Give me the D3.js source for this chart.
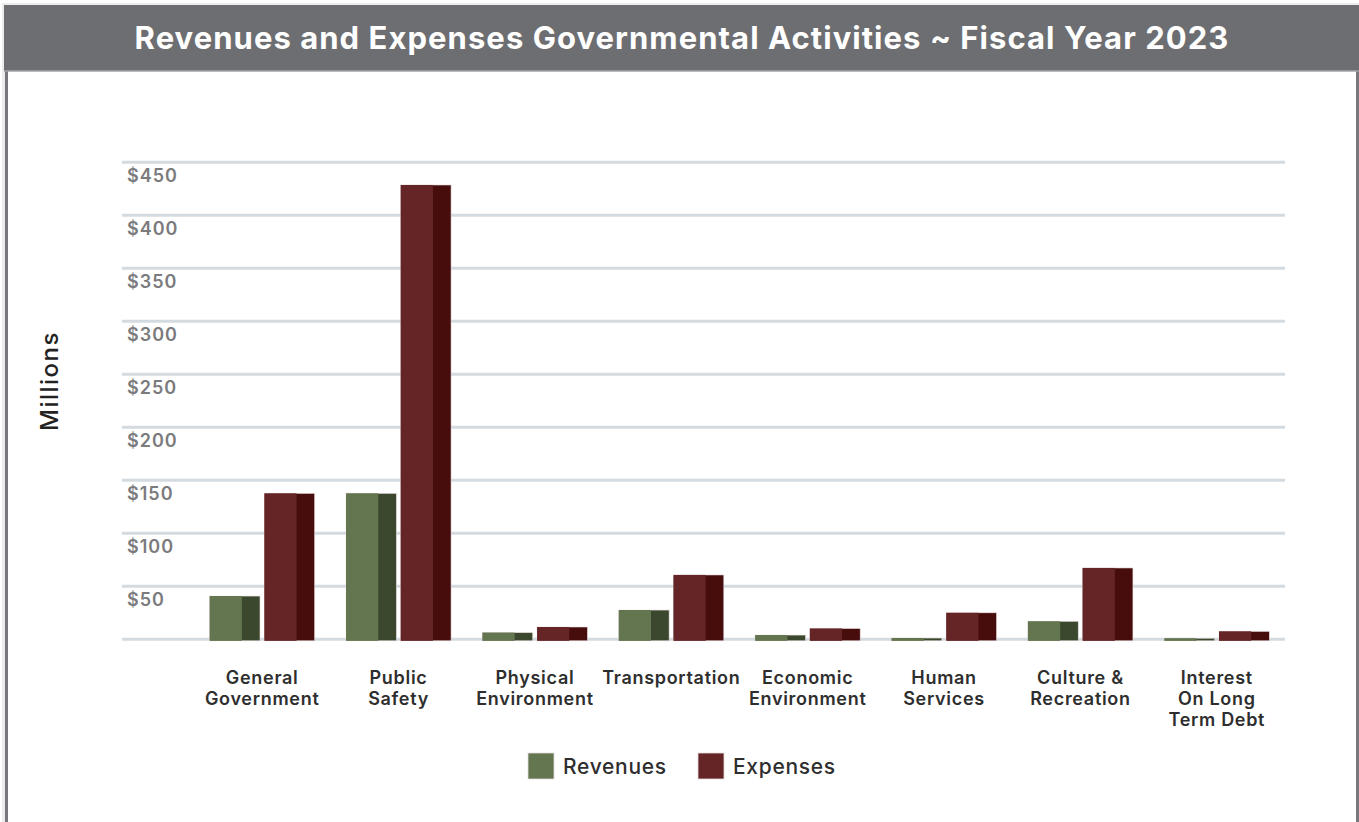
<!doctype html>
<html>
<head>
<meta charset="utf-8">
<script src="https://cdnjs.cloudflare.com/ajax/libs/d3/7.8.5/d3.min.js"></script>
<style>
  body { margin: 0; background: #fff; }
  svg { display: block; font-family: Inter, "Open Sans", sans-serif; }
  .title { fill: #fff; font-size: 31px; font-weight: 700; letter-spacing: 1.05px; }
  .ytick { fill: #7b7b7d; font-size: 18px; font-weight: 600; letter-spacing: 1px; }
  .cat { fill: #2e2e2e; font-size: 18px; font-weight: 600; letter-spacing: 0.7px; }
  .ylabel { fill: #222; font-size: 24px; font-weight: 500; letter-spacing: 1.5px; }
  .legend text { fill: #2e2e2e; font-size: 21px; font-weight: 500; letter-spacing: 0.7px; }
</style>
</head>
<body>
<svg id="chart" width="1359" height="822"></svg>
<script>
// values in millions of dollars
var categories = ["General\nGovernment", "Public\nSafety", "Physical\nEnvironment", "Transportation",
                  "Economic\nEnvironment", "Human\nServices", "Culture &\nRecreation", "Interest\nOn Long\nTerm Debt"];
var revenues = [40.8, 137.7, 6.3, 27.6, 4, 1.2, 17, 1];
var expenses = [137.7, 428.6, 11.6, 60.7, 10.2, 25, 67.3, 7.5];
var series = ["Revenues", "Expenses"];
var yTicks = [0, 50, 100, 150, 200, 250, 300, 350, 400, 450];

var light = { Revenues: "#647650", Expenses: "#652426" };
var dark  = { Revenues: "#3b482e", Expenses: "#460d0c" };

var svg = d3.select("#chart");

// frame
svg.append("rect").attr("x", 2).attr("y", 3).attr("width", 1357).attr("height", 819).attr("fill", "#ececec");
svg.append("rect").attr("x", 8).attr("y", 71).attr("width", 1348).attr("height", 751).attr("fill", "#fff");
svg.append("rect").attr("x", 4).attr("y", 5).attr("width", 1355).attr("height", 66).attr("fill", "#6d6e72");
svg.append("rect").attr("x", 5).attr("y", 71).attr("width", 3).attr("height", 751).attr("fill", "#77787b");
svg.append("rect").attr("x", 1356).attr("y", 71).attr("width", 3).attr("height", 751).attr("fill", "#77787b");
svg.append("line").attr("x1", 4).attr("x2", 1359).attr("y1", 71).attr("y2", 71)
  .attr("stroke", "#a3a4a7").attr("stroke-width", 1.5);

svg.append("text").attr("class", "title")
  .attr("x", 682).attr("y", 49).attr("text-anchor", "middle")
  .text("Revenues and Expenses Governmental Activities ~ Fiscal Year 2023");

var y = d3.scaleLinear().domain([0, 450]).range([639.3, 162.3]);

var x0 = d3.scaleBand().domain(categories).range([194, 1285])
  .paddingInner(0.23).paddingOuter(0.115);
var x1 = d3.scaleBand().domain(series).range([0, x0.bandwidth()]).paddingInner(0.08);

// grid
var grid = svg.append("g");
grid.selectAll("line").data(yTicks).enter().append("line")
  .attr("x1", 122).attr("x2", 1285)
  .attr("y1", function (d) { return y(d); }).attr("y2", function (d) { return y(d); })
  .attr("stroke", "#d4dbe0").attr("stroke-width", 3);
grid.selectAll("text").data(yTicks.filter(function (d) { return d > 0; })).enter().append("text")
  .attr("class", "ytick")
  .attr("x", 127).attr("y", function (d) { return y(d) + 20; })
  .text(function (d) { return "$" + d; });

svg.append("text").attr("class", "ylabel")
  .attr("transform", "translate(58,381) rotate(-90)")
  .attr("text-anchor", "middle")
  .text("Millions");

// bars
var rows = categories.map(function (c, i) {
  return { cat: c, vals: [{ s: "Revenues", v: revenues[i] }, { s: "Expenses", v: expenses[i] }] };
});

var groups = svg.selectAll("g.grp").data(rows).enter().append("g")
  .attr("class", "grp")
  .attr("transform", function (d) { return "translate(" + x0(d.cat) + ",0)"; });

var bars = groups.selectAll("g.bar").data(function (d) { return d.vals; }).enter().append("g")
  .attr("class", "bar");

var bw = x1.bandwidth();
var split = bw * 0.64;
var base = y(0) + 1.5;

bars.append("rect")
  .attr("x", function (d) { return x1(d.s); })
  .attr("y", function (d) { return y(d.v); })
  .attr("width", bw)
  .attr("height", function (d) { return base - y(d.v); })
  .attr("fill", function (d) { return dark[d.s]; })
  .attr("stroke", "#e9dede").attr("stroke-width", 0.6);

bars.append("rect")
  .attr("x", function (d) { return x1(d.s); })
  .attr("y", function (d) { return y(d.v); })
  .attr("width", split)
  .attr("height", function (d) { return base - y(d.v); })
  .attr("fill", function (d) { return light[d.s]; });

// category labels
groups.append("text").attr("class", "cat")
  .attr("text-anchor", "middle")
  .attr("x", x0.bandwidth() / 2)
  .attr("y", 684)
  .selectAll("tspan").data(function (d) { return d.cat.split("\n"); }).enter().append("tspan")
  .attr("x", x0.bandwidth() / 2)
  .attr("dy", function (d, i) { return i === 0 ? 0 : 21; })
  .text(function (d) { return d; });

// legend
var legendX = [528, 698];
var legend = svg.append("g").attr("class", "legend");
var items = legend.selectAll("g").data(series).enter().append("g")
  .attr("transform", function (d, i) { return "translate(" + legendX[i] + ",753)"; });
items.append("rect").attr("width", 26).attr("height", 26)
  .attr("fill", function (d) { return light[d]; })
  .attr("stroke", "#e4dcdc").attr("stroke-width", 0.8);
items.append("text").attr("x", 35).attr("y", 21).text(function (d) { return d; });
</script>
</body>
</html>
